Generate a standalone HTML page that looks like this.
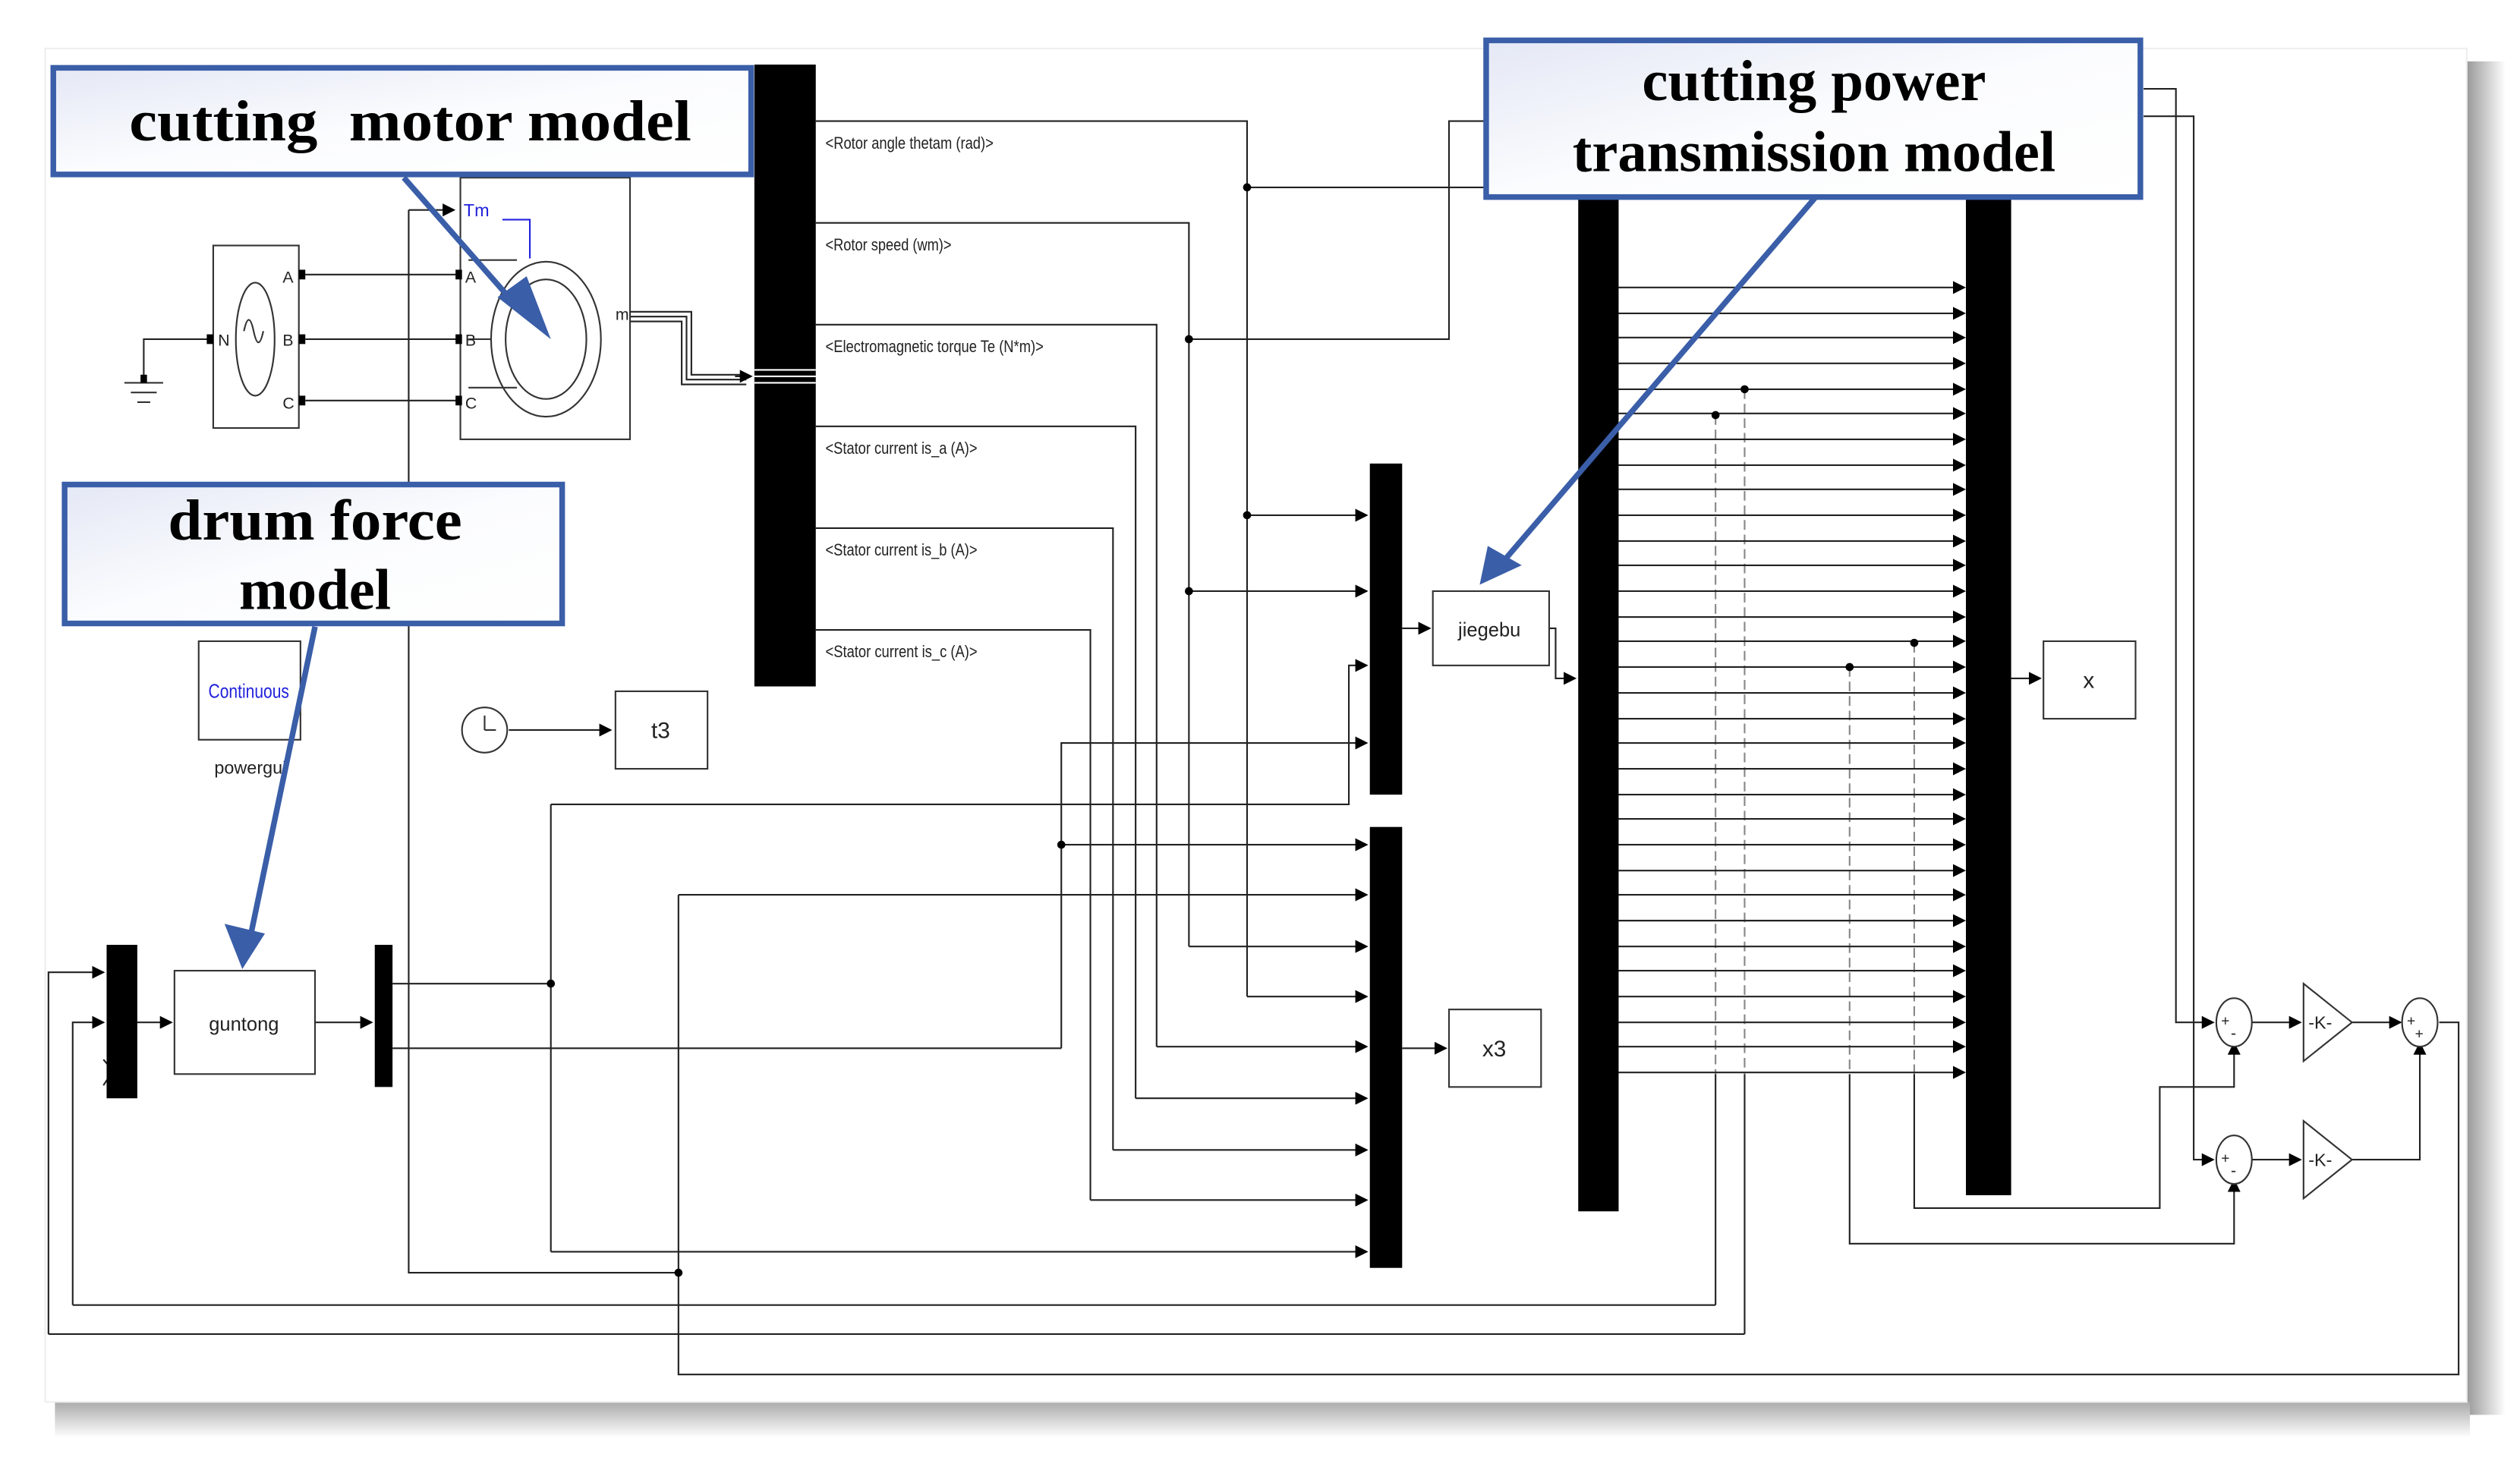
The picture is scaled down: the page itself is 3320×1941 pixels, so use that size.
<!DOCTYPE html>
<html><head><meta charset="utf-8"><style>
html,body{margin:0;padding:0;background:#fff;}
svg{display:block;}
.t{font-family:"Liberation Sans",sans-serif;}
.s{font-family:"Liberation Serif",serif;font-weight:bold;}
</style></head><body>
<svg width="3320" height="1941" viewBox="0 0 1560 912" preserveAspectRatio="none" xmlns="http://www.w3.org/2000/svg">
<defs>
<marker id="a" markerWidth="8" markerHeight="8" refX="7" refY="4" orient="auto" markerUnits="userSpaceOnUse"><path d="M0,0 L8,4 L0,8Z" fill="#000"/></marker>
<linearGradient id="g" x1="0" y1="0" x2="1" y2="1"><stop offset="0" stop-color="#e4e8f5"/><stop offset="0.5" stop-color="#fbfcfe"/><stop offset="1" stop-color="#fff"/></linearGradient>
<linearGradient id="sr" x1="0" x2="1"><stop offset="0" stop-color="#999"/><stop offset="1" stop-color="#fff"/></linearGradient>
<linearGradient id="sb" x1="0" x2="0" y1="0" y2="1"><stop offset="0" stop-color="#aaa"/><stop offset="1" stop-color="#fff"/></linearGradient>
</defs>
<rect x="0" y="0" width="1560" height="912" fill="#fff"/>
<rect x="1527" y="38" width="24" height="838" fill="url(#sr)"/>
<rect x="34" y="868" width="1495" height="22" fill="url(#sb)"/>
<rect x="28" y="30" width="1499" height="838" fill="#fff" stroke="#eee"/>

<g fill="none" stroke="#222" stroke-width="1">
<path d="M505,75 H772 V617"/>
<path d="M505,138 H736 V586"/>
<path d="M505,201 H716 V648"/>
<path d="M505,264 H703 V680"/>
<path d="M505,327 H689 V712"/>
<path d="M505,390 H675 V743"/>
<path d="M772,116 H920"/>
<path d="M736,210 H897 V75 H920"/>
<path d="M772,319 H846" marker-end="url(#a)"/>
<path d="M736,366 H846" marker-end="url(#a)"/>
<path d="M341,498 H835 V412 H846" marker-end="url(#a)"/>
<path d="M657,649 V460 H846" marker-end="url(#a)"/>
<path d="M657,523 H846" marker-end="url(#a)"/>
<path d="M420,554 H846" marker-end="url(#a)"/>
<path d="M736,586 H846" marker-end="url(#a)"/>
<path d="M772,617 H846" marker-end="url(#a)"/>
<path d="M716,648 H846" marker-end="url(#a)"/>
<path d="M703,680 H846" marker-end="url(#a)"/>
<path d="M689,712 H846" marker-end="url(#a)"/>
<path d="M675,743 H846" marker-end="url(#a)"/>
<path d="M341,775 H846" marker-end="url(#a)"/>
<path d="M868,649 H895" marker-end="url(#a)"/>
<path d="M868,389 H885" marker-end="url(#a)"/>
<path d="M959,389 H963 V420 H975" marker-end="url(#a)"/>
<path d="M1245,420 H1263" marker-end="url(#a)"/>
<path d="M243,609 H341 V498"/>
<path d="M341,609 V775"/>
<path d="M243,649 H657"/>
<path d="M85,633 H106" marker-end="url(#a)"/>
<path d="M195,633 H230" marker-end="url(#a)"/>
<path d="M30,826 V602 H64" marker-end="url(#a)"/>
<path d="M45,808 V633 H64" marker-end="url(#a)"/>
<path d="M64,656 L70,663 L64,672"/>
<path d="M30,826 H1080"/>
<path d="M45,808 H1062"/>
<path d="M253,130 H281" marker-end="url(#a)"/>
<path d="M253,130 V788 H420"/>
<path d="M420,554 V851 H1522 V633 H1510"/>
<path d="M89,237 V210 H130"/>
<path d="M189,170 H283 M189,210 H283 M189,248 H283"/>
<path d="M390,193 H428 V232 H462 M390,196 H425 V235 H462 M390,199 H422 V238 H462"/>
<path d="M455,233 H465" marker-end="url(#a)"/>
<path d="M315,452 H378" marker-end="url(#a)"/>
<path d="M1327,55 H1347 V633 H1370" marker-end="url(#a)"/>
<path d="M1327,72 H1358 V718 H1370" marker-end="url(#a)"/>
<path d="M1394,633 H1424" marker-end="url(#a)"/>
<path d="M1394,718 H1424" marker-end="url(#a)"/>
<path d="M1456,633 H1486" marker-end="url(#a)"/>
<path d="M1456,718 H1498 V646" marker-end="url(#a)"/>
<path d="M1185,665 V748 H1337 V673 H1383 V646" marker-end="url(#a)"/>
<path d="M1145,665 V770 H1383 V731" marker-end="url(#a)"/>
<path d="M1080,665 V826 M1062,665 V808"/>
</g>
<g stroke="#888" stroke-width="1" fill="none" stroke-dasharray="6,3">
<path d="M1080,241 V665 M1062,257 V665 M1145,413 V665 M1185,398 V665"/>
</g>
<g stroke="#222" stroke-width="1" fill="none">
<path d="M1002,178 H1215 M1002,194 H1215 M1002,209 H1215 M1002,225 H1215 M1002,241 H1215 M1002,256 H1215 M1002,272 H1215 M1002,288 H1215 M1002,303 H1215 M1002,319 H1215 M1002,335 H1215 M1002,350 H1215 M1002,366 H1215 M1002,382 H1215 M1002,397 H1215 M1002,413 H1215 M1002,429 H1215 M1002,445 H1215 M1002,460 H1215 M1002,476 H1215 M1002,492 H1215 M1002,507 H1215 M1002,523 H1215 M1002,539 H1215 M1002,554 H1215 M1002,570 H1215 M1002,586 H1215 M1002,601 H1215 M1002,617 H1215 M1002,633 H1215 M1002,648 H1215 M1002,664 H1215"/>
</g>
<g fill="#000">
<path d="M1209,174l8,4l-8,4z M1209,190l8,4l-8,4z M1209,205l8,4l-8,4z M1209,221l8,4l-8,4z M1209,237l8,4l-8,4z M1209,252l8,4l-8,4z M1209,268l8,4l-8,4z M1209,284l8,4l-8,4z M1209,299l8,4l-8,4z M1209,315l8,4l-8,4z M1209,331l8,4l-8,4z M1209,346l8,4l-8,4z M1209,362l8,4l-8,4z M1209,378l8,4l-8,4z M1209,393l8,4l-8,4z M1209,409l8,4l-8,4z M1209,425l8,4l-8,4z M1209,441l8,4l-8,4z M1209,456l8,4l-8,4z M1209,472l8,4l-8,4z M1209,488l8,4l-8,4z M1209,503l8,4l-8,4z M1209,519l8,4l-8,4z M1209,535l8,4l-8,4z M1209,550l8,4l-8,4z M1209,566l8,4l-8,4z M1209,582l8,4l-8,4z M1209,597l8,4l-8,4z M1209,613l8,4l-8,4z M1209,629l8,4l-8,4z M1209,644l8,4l-8,4z M1209,660l8,4l-8,4z"/>
<circle cx="772" cy="116" r="2.5"/><circle cx="736" cy="210" r="2.5"/><circle cx="772" cy="319" r="2.5"/><circle cx="736" cy="366" r="2.5"/>
<circle cx="657" cy="523" r="2.5"/><circle cx="341" cy="609" r="2.5"/><circle cx="420" cy="788" r="2.5"/>
<circle cx="1080" cy="241" r="2.5"/><circle cx="1062" cy="257" r="2.5"/><circle cx="1145" cy="413" r="2.5"/><circle cx="1185" cy="398" r="2.5"/>
<rect x="467" y="40" width="38" height="385"/>
<rect x="848" y="287" width="20" height="205"/>
<rect x="848" y="512" width="20" height="273"/>
<rect x="977" y="118" width="25" height="632"/>
<rect x="1217" y="118" width="28" height="622"/>
<rect x="66" y="585" width="19" height="95"/>
<rect x="232" y="585" width="11" height="88"/>
</g>
<g stroke="#fff" stroke-width="1"><path d="M467,229 H505 M467,233 H505 M467,237 H505"/></g>

<g fill="#fff" stroke="#333" stroke-width="1">
<rect x="285" y="110" width="105" height="162"/>
<rect x="132" y="152" width="53" height="113"/>
<rect x="108" y="601" width="87" height="64"/>
<rect x="887" y="366" width="72" height="46"/>
<rect x="897" y="625" width="57" height="48"/>
<rect x="1265" y="397" width="57" height="48"/>
<rect x="381" y="428" width="57" height="48"/>
<rect x="123" y="397" width="63" height="61"/>
<circle cx="300" cy="452" r="14"/>
<ellipse cx="338" cy="210" rx="34" ry="48"/>
<ellipse cx="338" cy="210" rx="25" ry="37"/>
<ellipse cx="158" cy="210" rx="12" ry="35"/>
<ellipse cx="1383" cy="633" rx="11" ry="15"/>
<ellipse cx="1383" cy="718" rx="11" ry="15"/>
<ellipse cx="1498" cy="633" rx="11" ry="15"/>
<path d="M1426,609 L1456,633 L1426,657Z"/>
<path d="M1426,694 L1456,718 L1426,742Z"/>
</g>
<g stroke="#333" fill="none" stroke-width="1">
<path d="M300,452 V443 M300,452 H307"/>
<path d="M151,205 q3,-14 6,0 q3,14 6,0"/>
<path d="M77,237 H101 M81,243 H97 M85,249 H93 M89,210 V237"/>
<path d="M290,161 H320 M290,240 H320 M290,210 H304"/>
</g>
<path d="M311,136 H328 V160" stroke="#2222dd" fill="none"/>
<g fill="#000"><rect x="87" y="232" width="4" height="5"/><rect x="128" y="207" width="4" height="6"/>
<rect x="185" y="167" width="4" height="6"/><rect x="185" y="207" width="4" height="6"/><rect x="185" y="245" width="4" height="6"/>
<rect x="282" y="167" width="4" height="6"/><rect x="282" y="207" width="4" height="6"/><rect x="282" y="245" width="4" height="6"/></g>

<g class="t" fill="#222" font-size="10.5">
<text x="511" y="92" textLength="104" lengthAdjust="spacingAndGlyphs">&lt;Rotor angle thetam (rad)&gt;</text>
<text x="511" y="155" textLength="78" lengthAdjust="spacingAndGlyphs">&lt;Rotor speed (wm)&gt;</text>
<text x="511" y="218" textLength="135" lengthAdjust="spacingAndGlyphs">&lt;Electromagnetic torque Te (N*m)&gt;</text>
<text x="511" y="281" textLength="94" lengthAdjust="spacingAndGlyphs">&lt;Stator current is_a (A)&gt;</text>
<text x="511" y="344" textLength="94" lengthAdjust="spacingAndGlyphs">&lt;Stator current is_b (A)&gt;</text>
<text x="511" y="407" textLength="94" lengthAdjust="spacingAndGlyphs">&lt;Stator current is_c (A)&gt;</text>
<text x="151" y="638" font-size="12" text-anchor="middle">guntong</text>
<text x="922" y="394" font-size="12" text-anchor="middle">jiegebu</text>
<text x="925" y="654" font-size="14" text-anchor="middle">x3</text>
<text x="1293" y="426" font-size="14" text-anchor="middle">x</text>
<text x="409" y="457" font-size="14" text-anchor="middle">t3</text>
<text x="154" y="432" font-size="12" fill="#2222dd" text-anchor="middle" textLength="50" lengthAdjust="spacingAndGlyphs">Continuous</text>
<text x="155" y="479" font-size="11" text-anchor="middle">powergui</text>
<text x="287" y="134" font-size="11" fill="#2222dd">Tm</text>
<text x="381" y="198" font-size="10">m</text>
<text x="175" y="175" font-size="10">A</text><text x="175" y="214" font-size="10">B</text><text x="175" y="253" font-size="10">C</text>
<text x="135" y="214" font-size="10">N</text>
<text x="288" y="175" font-size="10">A</text><text x="288" y="214" font-size="10">B</text><text x="288" y="253" font-size="10">C</text>
<text x="1429" y="637" font-size="11">-K-</text><text x="1429" y="722" font-size="11">-K-</text>
<text x="1375" y="635" font-size="9">+</text><text x="1381" y="643" font-size="10">-</text>
<text x="1375" y="720" font-size="9">+</text><text x="1381" y="728" font-size="10">-</text>
<text x="1490" y="635" font-size="9">+</text><text x="1495" y="643" font-size="9">+</text>
</g>

<g stroke="#3a5ea8" stroke-width="3.5">
<rect x="33" y="42" width="432" height="66" fill="url(#g)"/>
<rect x="40" y="300" width="308" height="86" fill="url(#g)"/>
<rect x="920" y="25" width="405" height="97" fill="url(#g)"/>
<line x1="250" y1="110" x2="322" y2="192"/>
<line x1="195" y1="388" x2="155" y2="580"/>
<line x1="1124" y1="122" x2="932" y2="346"/>
</g>
<g fill="#3a5ea8">
<path d="M308,184 L341,210 L326,171Z"/>
<path d="M139,572 L150,600 L164,578Z"/>
<path d="M921,338 L916,362 L942,350Z"/>
</g>
<g class="s" fill="#000" text-anchor="middle">
<text x="254" y="87" font-size="36" textLength="348" lengthAdjust="spacingAndGlyphs">cutting&#160; motor model</text>
<text x="195" y="334" font-size="36" textLength="182" lengthAdjust="spacingAndGlyphs">drum force</text>
<text x="195" y="377" font-size="36">model</text>
<text x="1123" y="62" font-size="36">cutting power</text>
<text x="1123" y="106" font-size="36">transmission model</text>
</g>
</svg>
</body></html>
